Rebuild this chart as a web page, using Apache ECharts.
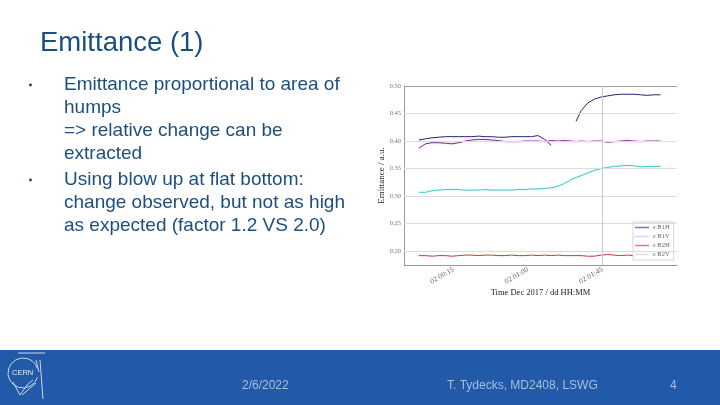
<!DOCTYPE html>
<html><head><meta charset="utf-8">
<script src="https://cdn.jsdelivr.net/npm/echarts@6/dist/echarts.min.js"></script>
<style>html,body{margin:0;padding:0;background:#fff}#c{width:720px;height:405px}</style>
</head><body><div id="c"></div>
<script>
// minutes since 2017-12-02 00:00
const timeMin = [-6,-2,2,6,10,14,18,22,26,30,34,38,42,46,50,54,58,62,66,70,74,78,82,86,89,92,96,100,104,108,112,116,120,124,128,132,136,140];
const b1h = [0.402,0.404,0.406,0.407,0.408,0.408,0.408,0.408,0.408,0.409,0.408,0.408,0.407,0.407,0.408,0.408,0.408,0.408,0.410,0.403,0.392,null,null,null,0.436,0.455,0.469,0.476,0.480,0.482,0.484,0.485,0.485,0.485,0.484,0.483,0.484,0.484];
const b1v = [0.387,0.395,0.397,0.397,0.396,0.395,0.397,0.400,0.402,0.403,0.403,0.402,0.401,0.399,0.399,0.399,0.400,0.400,0.400,0.399,0.401,0.400,0.401,0.400,0.399,0.400,0.399,0.400,0.400,0.398,0.399,0.400,0.401,0.400,0.399,0.400,0.400,0.400];
const b2h = [0.192,0.192,0.191,0.192,0.192,0.191,0.192,0.193,0.193,0.192,0.193,0.193,0.192,0.192,0.193,0.192,0.192,0.193,0.192,0.193,0.192,0.193,0.192,0.192,0.192,0.192,0.191,0.191,0.193,0.194,0.193,0.192,0.193,0.192,0.192,0.192,0.192,0.192];
const b2v = [0.307,0.307,0.310,0.311,0.312,0.312,0.312,0.311,0.311,0.311,0.312,0.311,0.311,0.311,0.311,0.312,0.312,0.313,0.313,0.314,0.315,0.318,0.323,0.330,0.334,0.337,0.342,0.347,0.350,0.352,0.354,0.355,0.356,0.355,0.353,0.354,0.354,0.354];
const seriesNames = ['ε B1H','ε B1V','ε B2H','ε B2V'];
const xTickMinutes = [15,60,105];
const xGridMinutes = [105];
const yGridValues = [0.20,0.25,0.30,0.35,0.40,0.45];
const yTopValue = 0.50;

const bodyLines = [
  {t:'Emittance proportional to area of', y:85, bullet:true},
  {t:'humps', y:108},
  {t:'=> relative change can be', y:131},
  {t:'extracted', y:154},
  {t:'Using blow up at flat bottom:', y:180, bullet:true},
  {t:'change observed, but not as high', y:203},
  {t:'as expected (factor 1.2 VS 2.0)', y:226}
];

function pairs(vals){ return timeMin.map((t,i)=>[t, vals[i]]); }
function fmtTime(m){ const h=Math.floor(m/60), mm=m%60; return '02 ' + String(h).padStart(2,'0') + ':' + String(mm).padStart(2,'0'); }

const txtColor = '#1c4f80';
const graphics = [];
graphics.push({type:'text', x:40, y:43, style:{text:'Emittance (1)', font:'27.5px "Liberation Sans"', fill:txtColor, verticalAlign:'middle'}});
bodyLines.forEach(l=>{
  graphics.push({type:'text', x:64, y:l.y, style:{text:l.t, font:'19px "Liberation Sans"', fill:txtColor, verticalAlign:'middle'}});
  if(l.bullet) graphics.push({type:'circle', shape:{cx:30.5, cy:l.y, r:1.4}, style:{fill:'#2a3a4a'}});
});
graphics.push({type:'rect', shape:{x:0,y:350,width:720,height:55}, style:{fill:'#2259a9'}, z:-1});
graphics.push({type:'text', x:242, y:386, style:{text:'2/6/2022', font:'12px "Liberation Sans"', fill:'#a9bfe0', verticalAlign:'middle'}});
graphics.push({type:'text', x:447, y:386, style:{text:'T. Tydecks, MD2408, LSWG', font:'12px "Liberation Sans"', fill:'#a9bfe0', verticalAlign:'middle'}});
graphics.push({type:'text', x:670, y:386, style:{text:'4', font:'12px "Liberation Sans"', fill:'#a9bfe0', verticalAlign:'middle'}});
// CERN logo
const logoStroke = {fill:'none', stroke:'#c9d7ee', lineWidth:1};
graphics.push({type:'arc', shape:{cx:23,cy:373,r:15,startAngle:0.3,endAngle:Math.PI*2-0.3}, style:logoStroke});
graphics.push({type:'line', shape:{x1:18,y1:353,x2:45,y2:353}, style:logoStroke});
graphics.push({type:'line', shape:{x1:40,y1:360,x2:43,y2:399}, style:logoStroke});
graphics.push({type:'line', shape:{x1:36,y1:360,x2:39,y2:372}, style:logoStroke});
graphics.push({type:'polyline', shape:{points:[[13,382],[20,395],[27,385],[33,380]]}, style:logoStroke});
graphics.push({type:'line', shape:{x1:22,y1:395,x2:36,y2:383}, style:logoStroke});
graphics.push({type:'text', x:12, y:373, style:{text:'CERN', font:'7.5px "Liberation Sans"', fill:'#e6edf8', verticalAlign:'middle'}});

const colors = ['#24246f','#7b2b8c','#c9372f','#3fc5c5'];
const legendColors = ['#7676aa','#d8d8ea','#e07b7b','#efd6e6'];
const dataArr = [b1h,b1v,b2h,b2v];
const series = seriesNames.map((n,i)=>({
  name:n, type:'line', data:pairs(dataArr[i]), showSymbol:false, connectNulls:false,
  lineStyle:{width:1, color:colors[i], shadowColor: i===1?'rgba(255,150,255,0.6)':(i===3?'rgba(150,240,240,0.6)':'rgba(0,0,0,0)'), shadowBlur: (i===1||i===3)?3:0},
  itemStyle:{color:colors[i]}, z:3, silent:true
}));
series.push({
  type:'line', data:[], silent:true, z:1,
  markLine:{symbol:'none', silent:true, label:{show:false}, animation:false,
    data: yGridValues.map(v=>({yAxis:v, lineStyle:{color:'#dcdcdc', type:'solid', width:1}}))
      .concat([{yAxis:yTopValue, lineStyle:{color:'#a0a0a0', type:'solid', width:1}}])
      .concat(xGridMinutes.map(v=>({xAxis:v, lineStyle:{color:'#c8c8c8', type:'solid', width:1}})))
  }
});

const chart = echarts.init(document.getElementById('c'));
chart.setOption({
  animation:false,
  backgroundColor:'#fff',
  graphic: graphics,
  grid:{left:404, right:43, top:86, bottom:140},
  legend:{data:seriesNames.map((n,i)=>({name:n, itemStyle:{color:legendColors[i]}})),
    orient:'vertical', left:633, top:222, itemWidth:14, itemHeight:1.5, itemGap:2,
    padding:[2,4,2,2], backgroundColor:'#fff', borderColor:'#d6d6d6', borderWidth:1, icon:'rect',
    textStyle:{fontSize:6.5, color:'#666', fontFamily:'"Liberation Serif"', padding:[0,0,0,-1]}},
  xAxis:{type:'value', min:-15, max:150, interval:5,
    name:'Time Dec 2017 / dd HH:MM', nameLocation:'middle', nameGap:22,
    nameTextStyle:{fontSize:8.5, color:'#222', fontFamily:'"Liberation Serif"'},
    axisLine:{onZero:false, lineStyle:{color:'#999'}}, axisTick:{show:false}, splitLine:{show:false},
    axisLabel:{rotate:30, fontSize:7.5, color:'#666', fontFamily:'"Liberation Serif"', margin:4,
      showMinLabel:true, showMaxLabel:true,
      formatter:v=> xTickMinutes.includes(Math.round(v)) ? fmtTime(Math.round(v)) : ''}},
  yAxis:{type:'value', min:0.175, max:0.5, interval:0.025,
    name:'Emittance / a.u.', nameLocation:'middle', nameGap:18,
    nameTextStyle:{fontSize:9, color:'#222', fontFamily:'"Liberation Serif"'},
    axisLine:{show:true, onZero:false, lineStyle:{color:'#999'}}, axisTick:{show:false}, splitLine:{show:false},
    axisLabel:{fontSize:6.5, color:'#777', fontFamily:'"Liberation Serif"', margin:3,
      formatter:v=> (Math.round(v*1000)%50===0) ? v.toFixed(2) : ''}},
  series: series
});
</script></body></html>
